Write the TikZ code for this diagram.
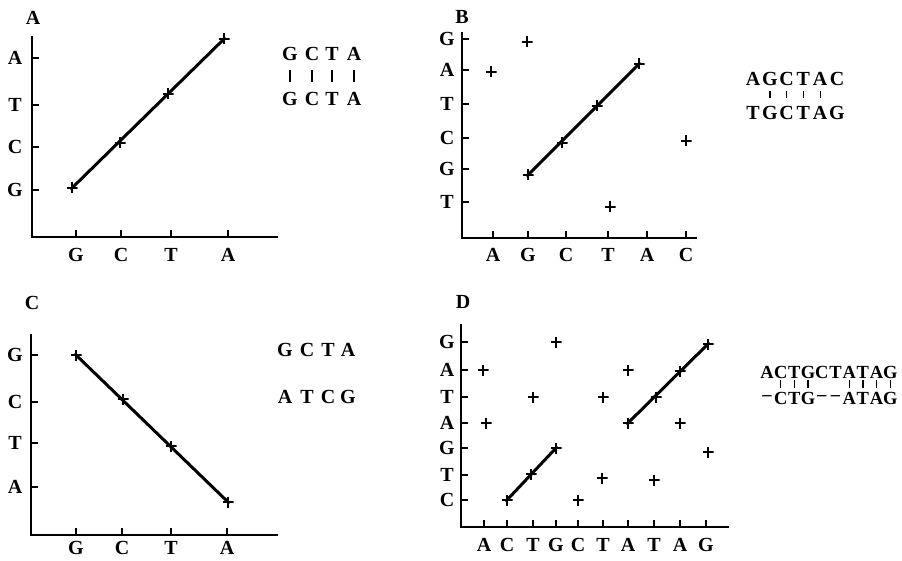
\documentclass[tikz,border=0pt]{standalone}
\usepackage{fontspec}
\setmainfont{Liberation Serif}
\usetikzlibrary{positioning}

\begin{document}
\begin{tikzpicture}[
  x=1pt, y=-1pt,
  axis/.style={line width=1.9pt, line cap=rect},
  tick/.style={line width=1.4pt},
  base/.style={font=\fontsize{20}{20}\selectfont\bfseries, inner sep=0pt},
  tight/.style={font=\fontsize{18.5}{18.5}\selectfont\bfseries, inner sep=0pt},
  hit/.style={inner sep=0pt, minimum size=11pt,
              path picture={\draw[line width=2.1pt]
                (path picture bounding box.north) -- (path picture bounding box.south)
                (path picture bounding box.west) -- (path picture bounding box.east);}},
  diag/.style={line width=3pt, shorten <=-2pt, shorten >=-2pt},
  pair/.style={line width=1.4pt},
]
  \useasboundingbox (0,0) rectangle (902,561);

  % Panel A
  \node[base] (labA) at (33,18) {A};
  \draw[axis] (32,37) -- (32,237) -- (277,237);
  \foreach \y/\b [count=\i] in {190/G,147/C,105/T,58/A} {
    \draw[tick] (32,\y) -- ++(7,0);
    \node[base] (ay\i) at (15,\y) {\b};
  }
  \foreach \x/\b [count=\i] in {76/G,121/C,171/T,228/A} {
    \draw[tick] (\x,237) -- ++(0,-7);
    \node[base] (ax\i) at (\x,255) {\b};
  }
  \foreach \x/\y [count=\i] in {72/188,120/143,168/94,224/39}
    \node[hit] (ap\i) at (\x,\y) {};
  \draw[diag] (ap1.center) -- (ap4.center);
  \foreach \x/\b [count=\i] in {290/G,312/C,332/T,354/A} {
    \node[base] (at\i) at (\x,54) {\b};
    \node[base] (ab\i) at (\x,99) {\b};
    \draw[pair, shorten <=9pt, shorten >=10pt] (at\i) -- (ab\i);
  }

  % Panel B
  \node[base] (labB) at (462,17) {B};
  \draw[axis] (462,33) -- (462,238) -- (696,238);
  \foreach \y/\b [count=\i] in {202/T,169/G,138/C,104/T,70/A,39/G} {
    \draw[tick] (462,\y) -- ++(7,0);
    \node[base] (by\i) at (447,\y) {\b};
  }
  \foreach \x/\b [count=\i] in {493/A,528/G,566/C,608/T,647/A,686/C} {
    \draw[tick] (\x,238) -- ++(0,-7);
    \node[base] (bx\i) at (\x,255) {\b};
  }
  \foreach \x/\y [count=\i] in {528/175,562/143,597/106,639/64}
    \node[hit] (bp\i) at (\x,\y) {};
  \draw[diag] (bp1.center) -- (bp4.center);
  \foreach \x/\y [count=\i] in {491/72,527/42,610/207,686/141}
    \node[hit] (bs\i) at (\x,\y) {};
  \foreach \t/\b [count=\i] in {A/T,G/G,C/C,T/T,A/A,C/G} {
    \pgfmathsetmacro\xx{753+16.8*(\i-1)}
    \node[base] (bt\i) at (\xx,79) {\t};
    \node[base] (bb\i) at (\xx,113) {\b};
  }
  \foreach \i in {2,...,5}
    \draw[pair, shorten <=5pt, shorten >=8pt] (bt\i) -- (bb\i);

  % Panel C
  \node[base] (labC) at (32,303) {C};
  \draw[axis] (31,335) -- (31,535) -- (277,535);
  \foreach \y/\b [count=\i] in {487/A,443/T,402/C,355/G} {
    \draw[tick] (31,\y) -- ++(7,0);
    \node[base] (cy\i) at (15,\y) {\b};
  }
  \foreach \x/\b [count=\i] in {76/G,122/C,171/T,227/A} {
    \draw[tick] (\x,535) -- ++(0,-7);
    \node[base] (cx\i) at (\x,548) {\b};
  }
  \foreach \x/\y [count=\i] in {76/355,123/399,171/446,228/502}
    \node[hit] (cp\i) at (\x,\y) {};
  \draw[diag] (cp1.center) -- (cp4.center);
  \foreach \x/\t/\b [count=\i] in {285/G/A,307/C/T,328/T/C,348/A/G} {
    \node[base] (ct\i) at (\x,350) {\t};
    \node[base] (cb\i) at (\x,397) {\b};
  }

  % Panel D
  \node[base] (labD) at (463,302) {D};
  \draw[axis] (461,325) -- (461,527) -- (728,527);
  \foreach \y/\b [count=\i] in {500/C,475/T,448/G,423/A,397/T,370/A,342/G} {
    \draw[tick] (461,\y) -- ++(7,0);
    \node[base] (dy\i) at (447,\y) {\b};
  }
  \foreach \x/\b [count=\i] in {484/A,507/C,533/T,556/G,578/C,603/T,628/A,654/T,680/A,706/G} {
    \draw[tick] (\x,527) -- ++(0,-7);
    \node[base] (dx\i) at (\x,545) {\b};
  }
  \foreach \x/\y [count=\i] in {507/500,531/474,556/448}
    \node[hit] (dp\i) at (\x,\y) {};
  \draw[diag] (dp1.center) -- (dp3.center);
  \foreach \x/\y [count=\i] in {628/423,656/397,680/371,708/344}
    \node[hit] (dq\i) at (\x,\y) {};
  \draw[diag] (dq1.center) -- (dq4.center);
  \foreach \x/\y [count=\i] in {483/370,486/423,533/397,556/342,578/500,603/397,602/478,628/370,654/480,680/423,708/452}
    \node[hit] (ds\i) at (\x,\y) {};
  \foreach \t/\b [count=\i] in {A/--,C/C,T/T,G/G,C/--,T/--,A/A,T/T,A/A,G/G} {
    \pgfmathsetmacro\xx{767+13.7*(\i-1)}
    \node[tight] (dt\i) at (\xx,372) {\t};
    \node[tight] (db\i) at (\xx,398) {\b};
  }
  \foreach \i in {2,3,4,7,8,9,10}
    \draw[pair, shorten <=1.5pt, shorten >=3.5pt] (dt\i) -- (db\i);
\end{tikzpicture}
\end{document}
